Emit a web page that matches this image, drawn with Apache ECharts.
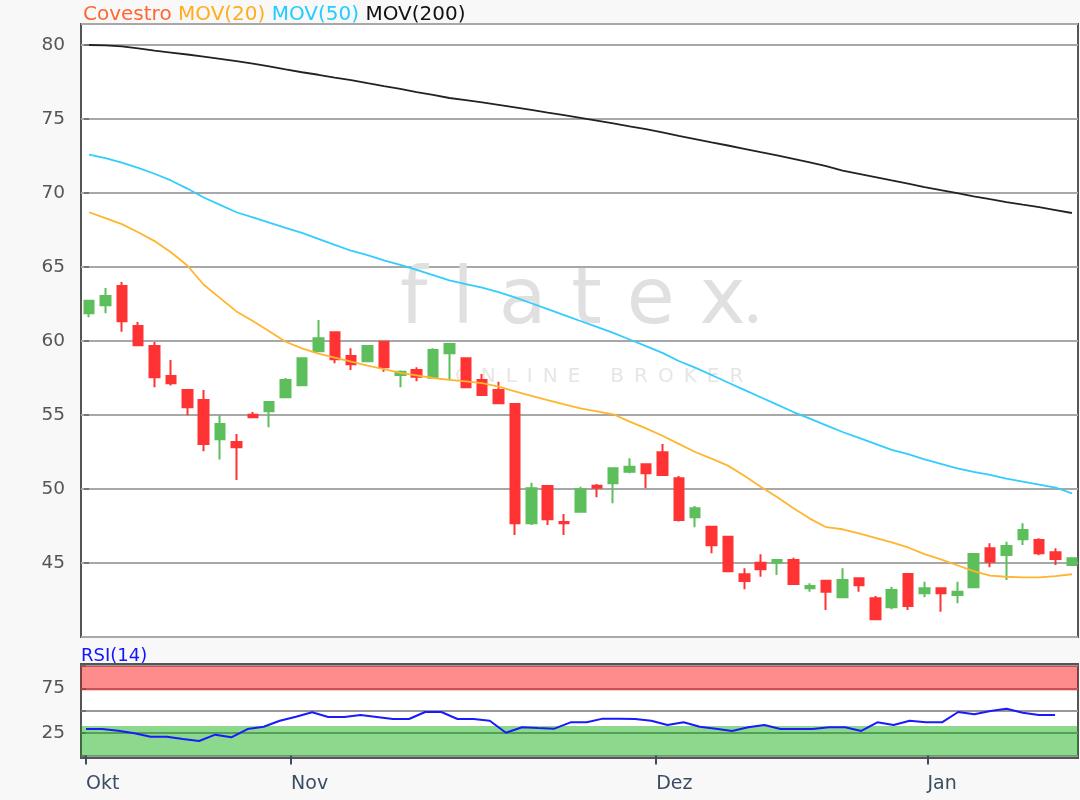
<!DOCTYPE html>
<html><head><meta charset="utf-8">
<script src="https://cdn.jsdelivr.net/npm/echarts@6/dist/echarts.min.js"></script>
<style>html,body{margin:0;padding:0;background:#f8f8f8}#c{width:1080px;height:800px}</style>
</head><body><div id="c"></div>
<script>
// ---- data (trading days, index 0 = first candle) ----
const opens  = [61.87,62.41,63.72,61.01,59.66,57.64,56.69,56.01,53.36,53.18,55.02,55.25,56.2,57.01,59.30,60.59,58.99,58.63,59.95,57.70,58.04,57.52,59.17,58.83,57.36,56.69,55.74,47.68,50.2,47.77,48.47,50.22,50.39,51.17,51.67,52.48,50.72,48.09,47.45,46.78,44.24,45.02,45.02,45.2,43.29,43.80,42.68,43.97,42.61,42.01,44.26,42.95,43.29,42.84,43.36,45.99,45.54,46.60,46.55,45.72,44.86];
const closes = [62.72,63.04,61.33,59.71,57.55,57.14,55.52,53.04,54.39,52.82,54.85,55.88,57.36,58.83,60.18,58.76,58.43,59.66,58.22,57.93,57.59,59.39,59.80,56.87,56.35,55.79,47.68,50.05,47.95,47.68,49.98,50.09,51.40,51.51,51.06,50.95,47.91,48.70,46.20,44.44,43.78,44.57,45.2,43.58,43.45,43.06,43.85,43.49,41.20,43.18,42.09,43.29,42.95,43.06,45.61,45.09,46.15,47.23,45.66,45.27,45.32];
const lows   = [61.6,61.87,60.63,59.7,56.87,57.0,54.98,52.55,52.0,50.61,54.8,54.17,56.2,57.0,59.3,58.49,58.04,58.6,57.93,56.87,57.28,57.5,57.36,56.85,56.3,55.75,46.89,47.57,47.57,46.89,48.45,49.44,49.03,51.06,50.05,50.9,47.8,47.41,45.66,44.4,43.22,44.07,44.19,43.55,43.06,41.82,42.65,43.06,41.2,41.87,41.82,42.68,41.71,42.28,43.35,44.71,43.85,46.22,45.52,44.86,44.85];
const highs  = [62.75,63.58,63.99,61.28,59.93,58.72,56.7,56.69,54.98,53.72,55.2,55.9,57.5,58.85,61.42,60.6,59.51,59.7,59.97,58.0,58.22,59.51,59.82,58.85,57.77,57.25,55.75,50.43,50.2,48.31,50.16,50.34,51.4,52.07,51.7,53.04,50.88,48.85,47.5,46.8,44.64,45.59,45.2,45.36,43.63,43.85,44.64,44.0,42.77,43.4,44.3,43.74,43.3,43.74,45.65,46.33,46.44,47.68,46.67,45.99,45.35];
const mov20  = [68.7,68.3,67.9,67.35,66.75,66.0,65.1,63.8,62.9,62.0,61.35,60.66,59.95,59.5,59.15,58.87,58.6,58.33,58.1,57.85,57.68,57.5,57.38,57.27,57.15,56.92,56.6,56.3,56.0,55.72,55.45,55.25,55.05,54.55,54.1,53.6,53.05,52.5,52.05,51.58,50.9,50.15,49.46,48.7,48.0,47.42,47.28,47.0,46.7,46.4,46.05,45.6,45.25,44.85,44.45,44.15,44.07,44.03,44.03,44.12,44.24];
const mov50  = [72.6,72.35,72.05,71.7,71.3,70.85,70.3,69.7,69.2,68.7,68.35,68.0,67.65,67.3,66.9,66.5,66.1,65.8,65.45,65.15,64.8,64.45,64.1,63.85,63.6,63.3,62.95,62.55,62.15,61.75,61.35,60.95,60.55,60.1,59.65,59.2,58.65,58.2,57.7,57.2,56.7,56.2,55.7,55.2,54.75,54.3,53.85,53.45,53.05,52.65,52.35,52.0,51.7,51.4,51.15,50.95,50.7,50.5,50.3,50.1,49.7];
const mov200 = [80.0,79.97,79.91,79.77,79.62,79.49,79.36,79.22,79.07,78.91,78.74,78.55,78.35,78.16,77.99,77.80,77.63,77.42,77.22,77.03,76.82,76.63,76.42,76.27,76.12,75.96,75.79,75.62,75.43,75.26,75.08,74.89,74.70,74.50,74.31,74.09,73.86,73.64,73.42,73.21,72.99,72.76,72.54,72.31,72.07,71.81,71.52,71.30,71.08,70.85,70.63,70.40,70.19,69.99,69.78,69.58,69.39,69.21,69.04,68.85,68.65];
const rsi14  = [29.5,29.5,27.6,24.7,20.9,20.9,18.3,16.1,23.2,20.2,29.5,32.1,38.8,43.3,48.2,43.0,43.0,45.2,43.0,40.7,40.7,48.5,48.5,40.7,40.7,38.8,25.4,31.4,30.6,29.9,37.0,37.0,41.1,41.1,40.8,38.8,34.0,37.0,32.1,29.7,27.3,31.4,34.0,29.5,29.5,29.5,31.4,31.4,27.3,37.0,34.0,38.8,37.0,37.0,48.5,46.0,49.7,52.2,47.8,45.2,45.2];
const monthTickPos = [0, 12.7, 35.3, 52.1];
const monthLabels  = ['Okt', 'Nov', 'Dez', 'Jan'];
const rsiLevels    = [0, 25, 50, 75, 100];
const rsiLabelLevels = [25, 75];
const overbought = [72.5, 100];
const oversold   = [-0.5, 33];

const FONT = 'DejaVu Sans';
const RED = '#ff3333', GREEN = '#5cbf5c';

const candleData = opens.map((o, i) => [i, o, closes[i], lows[i], highs[i]]);
const toXY = arr => arr.map((v, i) => [i, v]);
const spaced = (s, sep) => s.split('').join(sep);

const chart = echarts.init(document.getElementById('c'), null, {renderer: 'canvas'});
chart.setOption({
  backgroundColor: '#f8f8f8',
  animation: false,
  textStyle: {fontFamily: FONT},
  title: [
    {left: 78, top: 0, text: '{a|Covestro} {b|MOV(20)} {c|MOV(50)} {d|MOV(200)}',
     textStyle: {fontFamily: FONT, fontSize: 20, fontWeight: 'normal',
       rich: {a: {color: '#ff6633', fontSize: 20, fontFamily: FONT},
              b: {color: '#ffad1f', fontSize: 20, fontFamily: FONT},
              c: {color: '#22ccff', fontSize: 20, fontFamily: FONT},
              d: {color: '#111111', fontSize: 20, fontFamily: FONT}}}},
    {left: 76, top: 642, text: 'RSI(14)',
     textStyle: {fontFamily: FONT, fontSize: 18, fontWeight: 'normal', color: '#1414ff'}}
  ],
  graphic: [
    {type: 'text', left: 400, top: 264, z: 1, silent: true,
     style: {text: spaced('flatex', ' '), fontFamily: FONT, fontSize: 78, fill: '#e0e0e0'}},
    {type: 'text', left: 744, top: 307, z: 1, silent: true,
     style: {text: '•', fontFamily: FONT, fontSize: 30, fill: '#e0e0e0'}},
    {type: 'text', left: 455, top: 367, z: 1, silent: true,
     style: {text: spaced('ONLINE', '\u2002') + '\u2002\u2002\u2002' + spaced('BROKER', '\u2002'), fontFamily: FONT, fontSize: 20, fill: '#e6e6e6'}}
  ],
  grid: [
    {left: 81, right: 2, top: 24, height: 613, show: true, backgroundColor: '#ffffff', borderColor: '#555', borderWidth: 2},
    {left: 81, right: 2, top: 664, height: 94, show: true, backgroundColor: '#ffffff', borderColor: '#555', borderWidth: 2}
  ],
  xAxis: [
    {type: 'value', gridIndex: 0, min: -0.49, max: 60.37,
     axisLine: {show: false}, axisTick: {show: false}, axisLabel: {show: false}, splitLine: {show: false}},
    {type: 'value', gridIndex: 1, min: -0.31, max: 61.42,
     axisLine: {show: false},
     axisTick: {show: true, customValues: monthTickPos, length: 9, lineStyle: {color: '#3b4d63', width: 2}},
     axisLabel: {show: true, customValues: monthTickPos, align: 'left', margin: 17,
       fontFamily: FONT, fontSize: 19, color: '#3b4d63',
       formatter: v => { let b = 0; monthTickPos.forEach((p, k) => { if (Math.abs(p - v) < Math.abs(monthTickPos[b] - v)) b = k; }); return monthLabels[b]; }},
     splitLine: {show: false}}
  ],
  yAxis: [
    {type: 'value', gridIndex: 0, min: 40, max: 81.42, interval: 5,
     axisLine: {show: false},
     axisTick: {show: true, length: 5, lineStyle: {color: '#666', width: 1.5}},
     axisLabel: {showMinLabel: false, showMaxLabel: false, margin: 16, fontFamily: FONT, fontSize: 18.5, color: '#555'},
     splitLine: {show: true, lineStyle: {color: '#a8a8a8', width: 2}}},
    {type: 'value', gridIndex: 1, min: -2.9, max: 102.2,
     axisLine: {show: false},
     axisTick: {show: true, customValues: rsiLevels, length: 5, lineStyle: {color: '#666', width: 1.5}},
     axisLabel: {customValues: rsiLabelLevels, margin: 16, fontFamily: FONT, fontSize: 18.5, color: '#555'},
     splitLine: {show: true, lineStyle: {color: '#999', width: 2}}}
  ],
  series: [
    {type: 'candlestick', name: 'Covestro', xAxisIndex: 0, yAxisIndex: 0, z: 3,
     data: candleData, encode: {x: 0, y: [1, 2, 3, 4]}, barWidth: 10,
     itemStyle: {color: GREEN, color0: RED, borderColor: GREEN, borderColor0: RED, borderWidth: 2}},
    {type: 'line', name: 'MOV(200)', xAxisIndex: 0, yAxisIndex: 0, z: 4, data: toXY(mov200),
     showSymbol: false, lineStyle: {color: '#222', width: 1.8}},
    {type: 'line', name: 'MOV(50)', xAxisIndex: 0, yAxisIndex: 0, z: 4, data: toXY(mov50),
     showSymbol: false, lineStyle: {color: '#33ccff', width: 1.8}},
    {type: 'line', name: 'MOV(20)', xAxisIndex: 0, yAxisIndex: 0, z: 4, data: toXY(mov20),
     showSymbol: false, lineStyle: {color: '#ffb52e', width: 1.8}},
    {type: 'line', name: 'RSI(14)', xAxisIndex: 1, yAxisIndex: 1, z: 4, data: toXY(rsi14),
     showSymbol: false, lineStyle: {color: '#1a1aff', width: 2},
     markArea: {silent: true, data: [
       [{yAxis: overbought[0], itemStyle: {color: 'rgba(255,0,0,0.45)'}}, {yAxis: overbought[1]}],
       [{yAxis: oversold[0], itemStyle: {color: 'rgba(0,169,0,0.45)'}}, {yAxis: oversold[1]}]
     ]}}
  ]
});
</script></body></html>
